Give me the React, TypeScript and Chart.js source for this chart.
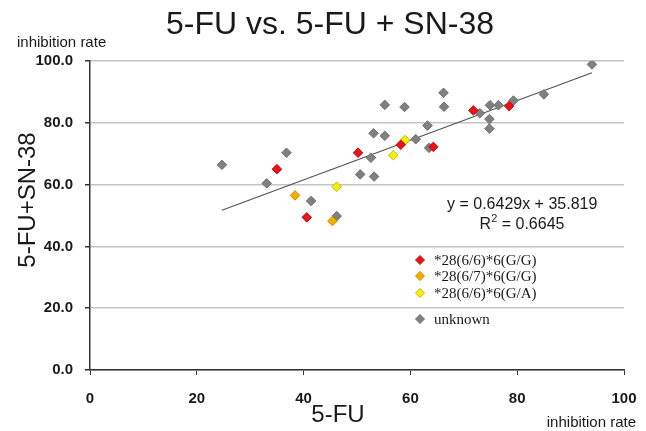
import React, { useEffect, useRef } from 'react';
import { Chart, registerables } from 'chart.js';
Chart.register(...registerables);

const titleText = '5-FU vs. 5-FU + SN-38';
const xTitle = '5-FU';
const yTitle = '5-FU+SN-38';
const unitText = 'inhibition rate';

const seriesLabels = ['*28(6/6)*6(G/G)', '*28(6/7)*6(G/G)', '*28(6/6)*6(G/A)', 'unknown'];
const seriesFill = ['#e3161c', '#f0b000', '#f6ee10', '#808080'];
const seriesBorder = ['#c01010', '#c88a00', '#c8b800', '#707070'];

const redX = [35.0, 40.6, 50.2, 58.2, 64.3, 71.8, 78.5];
const redY = [65.0, 49.4, 70.3, 72.9, 72.2, 84.0, 85.4];
const orangeX = [38.4, 45.4];
const orangeY = [56.5, 48.2];
const yellowX = [46.2, 56.8, 59.0];
const yellowY = [59.3, 69.5, 74.4];
const grayX = [24.7, 33.1, 36.8, 41.4, 46.2, 50.6, 52.6, 53.2, 53.1, 55.2, 55.2, 58.9, 61.0, 63.2, 63.5, 66.2, 66.3, 73.0, 74.9, 76.5, 74.8, 74.8, 79.3, 85.0, 94.0];
const grayY = [66.4, 60.4, 70.3, 54.7, 49.8, 63.3, 68.7, 62.6, 76.6, 85.8, 75.8, 85.1, 74.7, 79.1, 71.9, 89.7, 85.2, 83.1, 85.7, 85.7, 81.2, 78.1, 87.2, 89.2, 98.9];
const trendX = [24.7, 94.0];
const trendY = [51.7, 96.2];
const equationText = 'y = 0.6429x + 35.819';
const r2Text = ' = 0.6645';

const toPts = (xs: number[], ys: number[]) => xs.map((x, i) => ({ x, y: ys[i] }));

const textPlugin = {
  id: 'texts',
  afterDraw(chart: any) {
    const ctx = chart.ctx as CanvasRenderingContext2D;
    ctx.save();
    ctx.fillStyle = '#1a1a1a';
    // title
    ctx.font = '32px "Liberation Sans", Arial, sans-serif';
    ctx.textAlign = 'center';
    ctx.textBaseline = 'middle';
    ctx.fillText(titleText, 330, 25);
    // unit labels
    ctx.font = '15px "Liberation Sans", Arial, sans-serif';
    ctx.textAlign = 'left';
    ctx.fillText(unitText, 17, 43);
    ctx.textAlign = 'right';
    ctx.fillText(unitText, 636, 423);
    // axis titles
    ctx.font = '24px "Liberation Sans", Arial, sans-serif';
    ctx.textAlign = 'center';
    ctx.fillText(xTitle, 338, 415);
    ctx.save();
    ctx.translate(28, 200);
    ctx.rotate(-Math.PI / 2);
    ctx.fillText(yTitle, 0, 0);
    ctx.restore();
    // equation
    ctx.font = '16px "Liberation Sans", Arial, sans-serif';
    ctx.textAlign = 'left';
    ctx.fillText(equationText, 447, 205);
    const rW = ctx.measureText('R').width;
    ctx.font = '11px "Liberation Sans", Arial, sans-serif';
    const sW = ctx.measureText('2').width;
    ctx.font = '16px "Liberation Sans", Arial, sans-serif';
    const eW = ctx.measureText(r2Text).width;
    const startX = 522 - (rW + sW + eW) / 2;
    ctx.fillText('R', startX, 225);
    ctx.fillText(r2Text, startX + rW + sW, 225);
    ctx.font = '11px "Liberation Sans", Arial, sans-serif';
    ctx.fillText('2', startX + rW, 219);
    // legend
    const rows = [260, 276, 293, 319];
    ctx.font = '15px "Liberation Serif", "Times New Roman", serif';
    ctx.textBaseline = 'middle';
    seriesLabels.forEach((lab, i) => {
      const cx = 420, cy = rows[i], r = 4.5;
      ctx.beginPath();
      ctx.moveTo(cx, cy - r);
      ctx.lineTo(cx + r, cy);
      ctx.lineTo(cx, cy + r);
      ctx.lineTo(cx - r, cy);
      ctx.closePath();
      ctx.fillStyle = seriesFill[i];
      ctx.fill();
      ctx.strokeStyle = seriesBorder[i];
      ctx.lineWidth = 1;
      ctx.stroke();
      ctx.fillStyle = '#1a1a1a';
      ctx.fillText(lab, 434, cy + 1);
    });
    ctx.restore();
  },
};

export default function App() {
  const ref = useRef<HTMLCanvasElement | null>(null);
  useEffect(() => {
    if (!ref.current) return;
    const mk = (i: number, xs: number[], ys: number[]) => ({
      type: 'scatter' as const,
      label: seriesLabels[i],
      data: toPts(xs, ys),
      pointStyle: 'rectRot' as const,
      pointRadius: 4.8,
      pointBackgroundColor: seriesFill[i],
      pointBorderColor: seriesBorder[i],
      pointBorderWidth: 1,
      showLine: false,
    });
    const chart = new Chart(ref.current, {
      type: 'scatter',
      data: {
        datasets: [
          mk(0, redX, redY),
          mk(1, orangeX, orangeY),
          mk(2, yellowX, yellowY),
          mk(3, grayX, grayY),
          {
            type: 'line' as const,
            label: 'trend',
            data: toPts(trendX, trendY),
            borderColor: '#555555',
            borderWidth: 1.3,
            pointRadius: 0,
            fill: false,
          } as any,
        ],
      },
      options: {
        animation: false,
        responsive: false,
        events: [],
        layout: { padding: { top: 61, right: 22, left: 0, bottom: 0 } },
        plugins: { legend: { display: false }, tooltip: { enabled: false }, title: { display: false } },
        scales: {
          x: {
            type: 'linear',
            min: 0,
            max: 100,
            afterFit: (s: any) => { s.height = 61; s.paddingLeft = 0; s.paddingRight = 0; },
            ticks: {
              stepSize: 20,
              padding: 15,
              color: '#1a1a1a',
              font: { family: '"Liberation Sans", Arial, sans-serif', size: 15, weight: 'bold' },
            },
            grid: { drawOnChartArea: false, drawTicks: true, tickLength: 5, tickColor: '#333333' },
            border: { color: '#333333', width: 1.5 },
          },
          y: {
            type: 'linear',
            min: 0,
            max: 100,
            afterFit: (s: any) => { s.width = 90; s.paddingTop = 0; s.paddingBottom = 0; },
            ticks: {
              stepSize: 20,
              padding: 12,
              color: '#1a1a1a',
              callback: (v: any) => Number(v).toFixed(1),
              font: { family: '"Liberation Sans", Arial, sans-serif', size: 15, weight: 'bold' },
            },
            grid: { color: '#c4c4c4', lineWidth: 1.5, tickLength: 5, tickColor: '#333333' },
            border: { color: '#333333', width: 1.5 },
          },
        },
      },
      plugins: [textPlugin],
    });
    return () => chart.destroy();
  }, []);
  return (
    <div style={{ position: 'fixed', left: 0, top: 0, width: 646, height: 431, background: '#ffffff' }}>
      <canvas ref={ref} width={646} height={431} />
    </div>
  );
}
